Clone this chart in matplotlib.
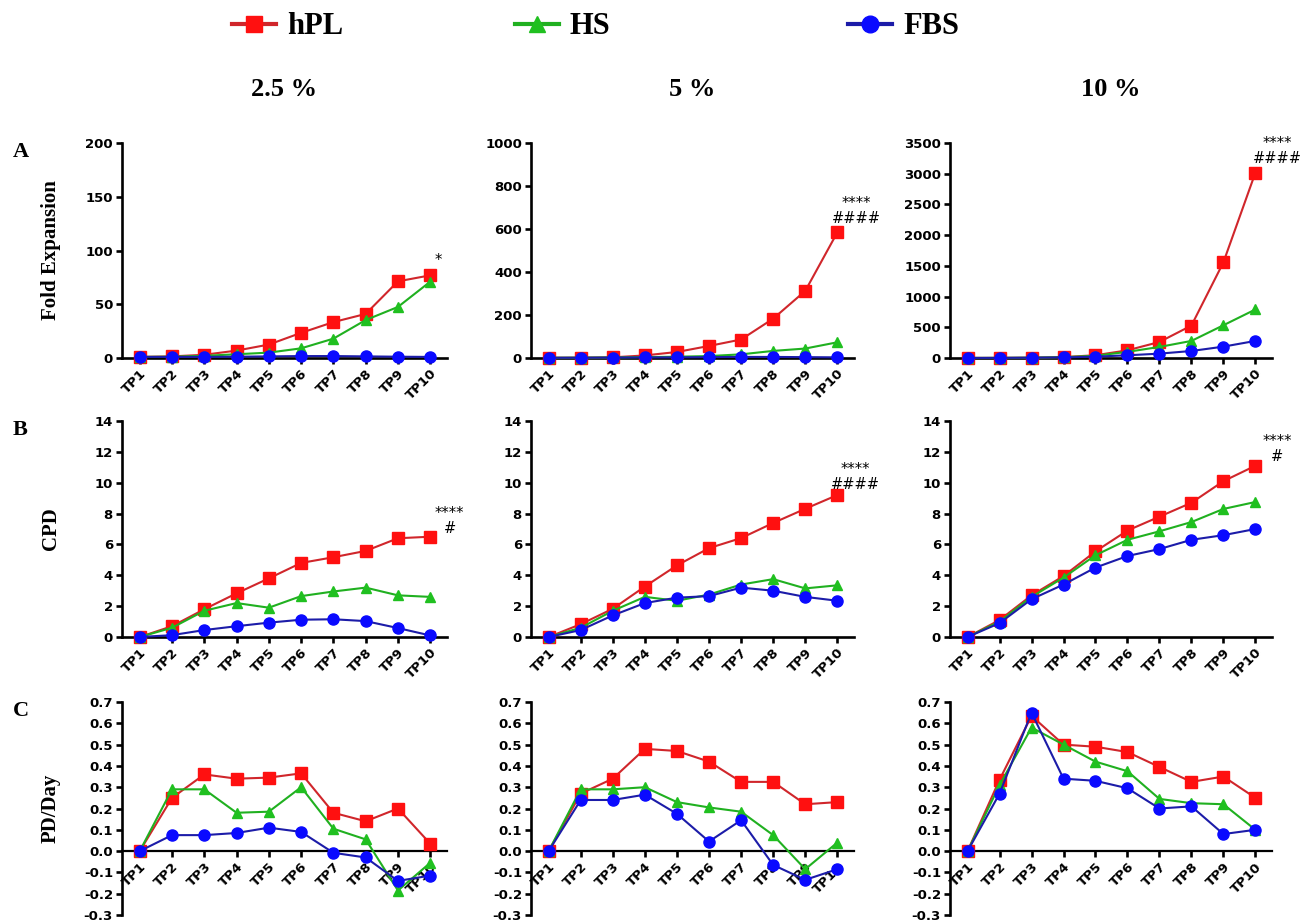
import matplotlib
matplotlib.use("Agg")
import matplotlib.pyplot as plt
from matplotlib.lines import Line2D

plt.rcParams['axes.unicode_minus'] = False
plt.rcParams['font.family'] = 'DejaVu Sans'

W, H = 1307, 923

timepoints = ["TP1", "TP2", "TP3", "TP4", "TP5", "TP6", "TP7", "TP8", "TP9", "TP10"]
concentrations = ["2.5 %", "5 %", "10 %"]
series_names = ["hPL", "HS", "FBS"]

# Fold expansion per concentration: hPL, HS, FBS
fold_25_hpl = [1, 1.5, 3, 6.9, 12.5, 23.4, 33.4, 41, 71.3, 76.9]
fold_25_hs = [1, 1.2, 2, 3.5, 5, 9, 18, 35.3, 47.5, 71]
fold_25_fbs = [1, 1, 1, 1.2, 1.5, 1.8, 1.8, 1.5, 1.2, 1]
fold_5_hpl = [1, 1.5, 3, 12, 28, 56, 86, 183, 312, 584]
fold_5_hs = [1, 1.5, 2.5, 4, 6, 9, 17, 33, 44, 73]
fold_5_fbs = [1, 1.2, 2, 2.5, 3, 4, 5, 5, 4, 3]
fold_10_hpl = [1, 2, 5, 15, 45, 125, 261, 528, 1557, 3016]
fold_10_hs = [1, 2, 5, 13, 36, 100, 180, 278, 533, 790]
fold_10_fbs = [1, 2, 5, 10, 22, 44, 71, 114, 185, 278]

# Cumulative population doublings
cpd_25_hpl = [0, 0.7, 1.8, 2.83, 3.8, 4.8, 5.17, 5.58, 6.4, 6.5]
cpd_25_hs = [0, 0.6, 1.7, 2.2, 1.9, 2.65, 2.95, 3.2, 2.7, 2.6]
cpd_25_fbs = [0, 0.12, 0.45, 0.7, 0.93, 1.12, 1.15, 1.03, 0.58, 0.1]
cpd_5_hpl = [0, 0.83, 1.83, 3.27, 4.64, 5.76, 6.41, 7.39, 8.31, 9.2]
cpd_5_hs = [0, 0.6, 1.7, 2.6, 2.35, 2.75, 3.4, 3.75, 3.15, 3.35]
cpd_5_fbs = [0, 0.45, 1.4, 2.2, 2.55, 2.65, 3.2, 3.0, 2.6, 2.35]
cpd_10_hpl = [0, 1.1, 2.7, 3.95, 5.55, 6.9, 7.8, 8.7, 10.1, 11.1]
cpd_10_hs = [0, 1.0, 2.6, 3.85, 5.3, 6.3, 6.85, 7.45, 8.3, 8.75]
cpd_10_fbs = [0, 0.9, 2.45, 3.4, 4.5, 5.25, 5.7, 6.3, 6.6, 7.0]

# Population doublings per day
pdd_25_hpl = [0, 0.25, 0.36, 0.34, 0.345, 0.365, 0.18, 0.14, 0.2, 0.035]
pdd_25_hs = [0, 0.29, 0.29, 0.18, 0.185, 0.3, 0.105, 0.055, -0.185, -0.055]
pdd_25_fbs = [0, 0.075, 0.075, 0.085, 0.11, 0.09, -0.008, -0.03, -0.14, -0.115]
pdd_5_hpl = [0, 0.27, 0.34, 0.48, 0.47, 0.42, 0.325, 0.325, 0.22, 0.23]
pdd_5_hs = [0, 0.29, 0.29, 0.3, 0.23, 0.205, 0.185, 0.075, -0.085, 0.04]
pdd_5_fbs = [0, 0.24, 0.24, 0.265, 0.175, 0.045, 0.145, -0.065, -0.135, -0.085]
pdd_10_hpl = [0, 0.335, 0.635, 0.5, 0.49, 0.465, 0.395, 0.325, 0.35, 0.25]
pdd_10_hs = [0, 0.31, 0.58, 0.5, 0.42, 0.375, 0.245, 0.225, 0.22, 0.1]
pdd_10_fbs = [0, 0.27, 0.65, 0.34, 0.33, 0.295, 0.2, 0.21, 0.08, 0.1]

fold_data = [[fold_25_hpl, fold_25_hs, fold_25_fbs],
             [fold_5_hpl, fold_5_hs, fold_5_fbs],
             [fold_10_hpl, fold_10_hs, fold_10_fbs]]
cpd_data = [[cpd_25_hpl, cpd_25_hs, cpd_25_fbs],
            [cpd_5_hpl, cpd_5_hs, cpd_5_fbs],
            [cpd_10_hpl, cpd_10_hs, cpd_10_fbs]]
pdd_data = [[pdd_25_hpl, pdd_25_hs, pdd_25_fbs],
            [pdd_5_hpl, pdd_5_hs, pdd_5_fbs],
            [pdd_10_hpl, pdd_10_hs, pdd_10_fbs]]

# significance marks at TP10: (text, x, y)
fold_marks = [("*", 10.25, 91), ("****\n####", 10.6, 684), ("****\n####", 10.68, 3370)]
cpd_marks = [("****\n#", 10.6, 7.55), ("****\n####", 10.56, 10.4), ("****\n#", 10.68, 12.2)]

fold_ylims = [(0, 200, 50), (0, 1000, 200), (0, 3500, 500)]

line_colors = ["#d0262b", "#20b020", "#1c1ca8"]
face_colors = ["#ff1010", "#20c020", "#0a0aff"]
markers = ["s", "^", "o"]
msizes = [8.5, 7.5, 8]

serif = "Liberation Serif"

fig = plt.figure(figsize=(W / 100, H / 100), dpi=100)


def add_px_axes(left, top, right, bottom):
    return fig.add_axes([left / W, 1 - bottom / H, (right - left) / W, (bottom - top) / H])


col_px = [(122, 447), (531, 854), (950, 1272)]
row_px = [(143, 358), (421, 637), (702, 915)]
x = list(range(1, 11))


def style_axes(ax):
    for side in ["top", "right"]:
        ax.spines[side].set_visible(False)
    for side in ["left", "bottom"]:
        ax.spines[side].set_linewidth(1.9)
    ax.tick_params(axis="both", direction="out", width=1.9, length=4.5,
                   labelsize=9.5, pad=2)
    ax.set_xlim(0.45, 10.52)
    ax.set_xticks(x)
    ax.set_xticklabels(timepoints, rotation=45, ha="right", va="top",
                       rotation_mode="anchor", fontweight="bold")
    for lab in ax.get_yticklabels():
        lab.set_fontweight("bold")


def draw_series(ax, data):
    for vals, lc, fc, m, ms in zip(data, line_colors, face_colors, markers, msizes):
        ax.plot(x, vals, color=lc, lw=1.5, marker=m, markersize=ms,
                markerfacecolor=fc, markeredgecolor=fc, clip_on=False, zorder=3)


for c in range(3):
    left, right = col_px[c]

    # row A: fold expansion
    ax = add_px_axes(left, row_px[0][0], right, row_px[0][1])
    draw_series(ax, fold_data[c])
    lo, hi, step = fold_ylims[c]
    ax.set_ylim(lo, hi)
    ax.set_yticks(range(lo, hi + 1, step))
    style_axes(ax)
    txt, tx, ty = fold_marks[c]
    ax.text(tx, ty, txt, ha="center", va="center", fontsize=10.5,
            linespacing=1.0, clip_on=False)

    # row B: CPD
    ax = add_px_axes(left, row_px[1][0], right, row_px[1][1])
    draw_series(ax, cpd_data[c])
    ax.set_ylim(0, 14)
    ax.set_yticks(range(0, 15, 2))
    style_axes(ax)
    txt, tx, ty = cpd_marks[c]
    ax.text(tx, ty, txt, ha="center", va="center", fontsize=10.5,
            linespacing=1.0, clip_on=False)

    # row C: PD/day, x axis drawn at zero
    ax = add_px_axes(left, row_px[2][0], right, row_px[2][1])
    draw_series(ax, pdd_data[c])
    ax.set_ylim(-0.3, 0.7)
    ax.set_yticks([i / 10 for i in range(-3, 8)])
    ax.yaxis.set_major_formatter(matplotlib.ticker.FormatStrFormatter("%.1f"))
    ax.spines["bottom"].set_position(("data", 0))
    style_axes(ax)
    ax.spines["bottom"].set_linewidth(1.6)

    # column header
    fig.text((left + right) / 2 / W, 1 - 89 / H, concentrations[c],
             ha="center", va="center", fontsize=19, fontweight="bold",
             family=serif)

# row titles and panel letters
for (top, bottom), label, letter in zip(row_px, ["Fold Expansion", "CPD", "PD/Day"],
                                        ["A", "B", "C"]):
    fig.text(51 / W, 1 - (top + bottom) / 2 / H, label, rotation=90,
             ha="center", va="center", fontsize=15, fontweight="bold", family=serif)
    fig.text(13 / W, 1 - (top - 1) / H, letter, ha="left", va="top",
             fontsize=16, fontweight="bold", family=serif)

# legend entries across the top
legend_x = [232, 515, 848]
for name, lc, fc, m, lx in zip(series_names, line_colors, face_colors, markers, legend_x):
    handle = Line2D([], [], color=lc, lw=3, marker=m, markersize=12,
                    markerfacecolor=fc, markeredgecolor=fc)
    fig.legend(handles=[handle], labels=[name], loc="center left",
               bbox_to_anchor=(lx / W, 1 - 27 / H), frameon=False,
               handlelength=1.45, handletextpad=0.35, borderpad=0,
               borderaxespad=0,
               prop={"family": serif, "weight": "bold", "size": 22})

fig.savefig("out.png", dpi=100)
